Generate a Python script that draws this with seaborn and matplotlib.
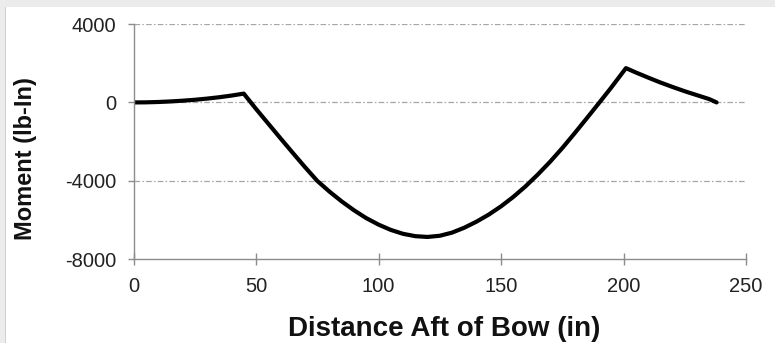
import matplotlib
matplotlib.use("Agg")
import matplotlib.pyplot as plt
from matplotlib.patches import Rectangle
import seaborn as sns
import pandas as pd

# ---- data ----
distance = [0, 5, 10, 15, 20, 25, 30, 35, 40, 45,
            50, 55, 60, 65, 70, 75, 80, 85, 90, 95,
            100, 105, 110, 115, 120, 125, 130, 135, 140, 145,
            150, 155, 160, 165, 170, 175, 180, 185, 190, 195,
            201, 205, 210, 215, 220, 225, 230, 235, 238]
moment = [0, 5, 22, 50, 88, 135, 195, 265, 350, 450,
          -330, -1080, -1830, -2570, -3300, -4000, -4550, -5050, -5500, -5900,
          -6230, -6500, -6700, -6820, -6860, -6800, -6640, -6390, -6080, -5720,
          -5300, -4820, -4280, -3680, -3030, -2330, -1580, -810, -30, 760,
          1750, 1530, 1270, 1020, 790, 570, 370, 170, 0]

x_ticks = [0, 50, 100, 150, 200, 250]
y_ticks = [-8000, -4000, 0, 4000]
x_label = "Distance Aft of Bow (in)"
y_label = "Moment (lb-In)"

df = pd.DataFrame({"distance": distance, "moment": moment})

sns.set_style("white")
plt.rcParams["font.family"] = ["Liberation Sans", "DejaVu Sans"]

W, H = 775, 343
fig = plt.figure(figsize=(W / 100, H / 100), dpi=100, facecolor="white")

# light gray frame like the source screenshot
fig.patches.append(Rectangle((0, 1 - 7 / H), 1, 7 / H, transform=fig.transFigure,
                             facecolor="#ebebeb", edgecolor="none", zorder=0))
fig.patches.append(Rectangle((0, 0), 5 / W, 1, transform=fig.transFigure,
                             facecolor="#ececec", edgecolor="none", zorder=0))
fig.patches.append(Rectangle((5 / W, 0), 1 / W, 1 - 7 / H, transform=fig.transFigure,
                             facecolor="#cfcfcf", edgecolor="none", zorder=0))

ax = fig.add_axes([133.5 / W, 1 - 259.3 / H, (746 - 133.5) / W, (259.3 - 24) / H])
ax.set_facecolor("none")

sns.lineplot(data=df, x="distance", y="moment", ax=ax, color="black",
             linewidth=3.0, sort=False, estimator=None,
             solid_joinstyle="round", solid_capstyle="round")

ax.set_xlim(0, 250)
ax.set_ylim(-8000, 4000)
ax.set_xticks(x_ticks)
ax.set_yticks(y_ticks)
ax.set_xticklabels([str(v) for v in x_ticks])
ax.set_yticklabels([str(v) for v in y_ticks])

for v in y_ticks:
    if v != -8000:
        ax.axhline(v, color="#a6a6a6", linewidth=0.9,
                   linestyle=(0, (4.5, 1.8, 1.2, 1.8)), zorder=0)

for side in ["top", "right"]:
    ax.spines[side].set_visible(False)
for side in ["left", "bottom"]:
    ax.spines[side].set_color("#8c8c8c")
    ax.spines[side].set_linewidth(1.0)

ax.tick_params(axis="y", direction="out", length=4.5, width=1.0, color="#8c8c8c",
               labelsize=14.5, labelcolor="#222222", pad=8, left=True)
ax.tick_params(axis="x", direction="inout", length=9, width=1.0, color="#8c8c8c",
               labelsize=14.5, labelcolor="#222222", pad=8, bottom=True)

ax.set_xlabel("")
ax.set_ylabel("")
fig.text(444 / W, 1 - 329 / H, x_label, ha="center", va="center",
         fontsize=20, fontweight="bold", color="#111111")
fig.text(26 / W, 1 - 159 / H, y_label, ha="center", va="center", rotation=90,
         fontsize=17, fontweight="bold", color="#111111")

fig.savefig("out.png", dpi=100, facecolor="white")
